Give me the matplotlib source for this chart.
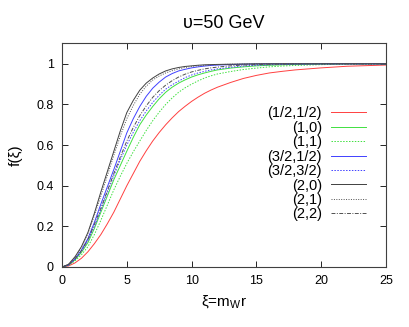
import numpy as np
import matplotlib
matplotlib.use('Agg')
import matplotlib.pyplot as plt

plt.rcParams['font.family'] = ['Liberation Sans', 'DejaVu Sans']
plt.rcParams['mathtext.fontset'] = 'custom'
plt.rcParams['mathtext.rm'] = 'Liberation Sans'

xi = [0, 0.5, 1, 1.5, 2, 2.5, 3, 3.5, 4, 4.5, 5, 5.5, 6, 6.5, 7, 7.5, 8, 8.5,
      9, 9.5, 10, 10.5, 11, 11.5, 12, 13, 14, 15, 16, 17, 18, 19, 20, 22, 25]

f_half_half = [0, 0.005, 0.02, 0.043, 0.075, 0.115, 0.16, 0.213, 0.27, 0.335,
               0.40, 0.46, 0.52, 0.572, 0.62, 0.662, 0.70, 0.734, 0.765, 0.791,
               0.815, 0.836, 0.855, 0.871, 0.885,
               0.908, 0.928, 0.943, 0.955, 0.963, 0.970, 0.975, 0.980, 0.988, 0.994]
f_1_0 = [0, 0.009, 0.035, 0.072, 0.12, 0.19, 0.27, 0.35, 0.43, 0.50,
         0.57, 0.638, 0.70, 0.748, 0.79, 0.828, 0.86, 0.885, 0.905, 0.921,
         0.935, 0.946, 0.955, 0.963, 0.970,
         0.979, 0.985, 0.990, 0.993, 0.995, 0.997, 0.998, 0.999, 1.0, 1.0]
f_1_1 = [0, 0.008, 0.03, 0.06, 0.10, 0.16, 0.23, 0.305, 0.38, 0.447,
         0.51, 0.567, 0.62, 0.672, 0.72, 0.762, 0.80, 0.832, 0.86, 0.882,
         0.90, 0.916, 0.93, 0.941, 0.95,
         0.962, 0.972, 0.979, 0.985, 0.989, 0.992, 0.994, 0.996, 0.998, 1.0]
f_32_12 = [0, 0.01, 0.04, 0.083, 0.14, 0.22, 0.31, 0.395, 0.48, 0.57,
           0.66, 0.73, 0.79, 0.84, 0.88, 0.91, 0.935, 0.952, 0.965, 0.973,
           0.98, 0.985, 0.989, 0.992, 0.994,
           0.996, 0.998, 0.999, 1.0, 1.0, 1.0, 1.0, 1.0, 1.0, 1.0]
f_32_32 = [0, 0.009, 0.037, 0.077, 0.13, 0.20, 0.28, 0.365, 0.45, 0.527,
           0.60, 0.663, 0.72, 0.768, 0.81, 0.845, 0.875, 0.897, 0.915, 0.932,
           0.945, 0.955, 0.963, 0.970, 0.975,
           0.983, 0.989, 0.993, 0.995, 0.997, 0.998, 0.999, 1.0, 1.0, 1.0]
f_2_0 = [0, 0.013, 0.05, 0.10, 0.17, 0.265, 0.37, 0.47, 0.57, 0.67,
         0.76, 0.82, 0.87, 0.905, 0.93, 0.95, 0.965, 0.975, 0.982, 0.987,
         0.99, 0.993, 0.995, 0.996, 0.997,
         0.998, 0.999, 1.0, 1.0, 1.0, 1.0, 1.0, 1.0, 1.0, 1.0]
f_2_1 = [0, 0.012, 0.048, 0.097, 0.165, 0.255, 0.35, 0.45, 0.55, 0.645,
         0.73, 0.795, 0.85, 0.89, 0.92, 0.94, 0.955, 0.966, 0.975, 0.982,
         0.987, 0.99, 0.993, 0.995, 0.996,
         0.998, 0.999, 1.0, 1.0, 1.0, 1.0, 1.0, 1.0, 1.0, 1.0]
f_2_2 = [0, 0.01, 0.04, 0.08, 0.135, 0.21, 0.29, 0.375, 0.46, 0.542,
         0.62, 0.687, 0.745, 0.793, 0.835, 0.868, 0.895, 0.917, 0.935, 0.949,
         0.96, 0.968, 0.975, 0.98, 0.984,
         0.99, 0.994, 0.996, 0.998, 0.999, 1.0, 1.0, 1.0, 1.0, 1.0]

labels = ['(1/2,1/2)', '(1,0)', '(1,1)', '(3/2,1/2)', '(3/2,3/2)',
          '(2,0)', '(2,1)', '(2,2)']
series = [f_half_half, f_1_0, f_1_1, f_32_12, f_32_32, f_2_0, f_2_1, f_2_2]
colors = ['#ff4040', '#40e040', '#40e040', '#4040ff', '#4040ff',
          '#404040', '#505050', '#505050']
styles = ['-', '-', (0, (1.5, 1.5)), '-', (0, (1.5, 1.5)),
          '-', (0, (1, 1.5)), (0, (4, 1.5, 1, 1.5))]

fig = plt.figure(figsize=(4.09, 3.27), dpi=100)
ax = fig.add_axes([0.1516, 0.1835, 0.7922, 0.6835])

for y, lab, c, ls in zip(series, labels, colors, styles):
    ax.plot(xi, y, color=c, linestyle=ls, linewidth=0.7, label=lab)

ax.set_xlim(0, 25)
ax.set_ylim(0, 1.1)
ax.set_xticks([0, 5, 10, 15, 20, 25])
ax.set_yticks([0, 0.2, 0.4, 0.6, 0.8, 1])
ax.set_yticklabels(['0', '0.2', '0.4', '0.6', '0.8', '1'])
ax.tick_params(direction='in', top=True, right=True, labelsize=9, length=4,
               width=0.6, pad=6)
for s in ax.spines.values():
    s.set_linewidth(0.8)
    s.set_color('#404040')

ax.set_title('υ=50 GeV', fontsize=13, pad=11)
ax.set_xlabel(r'ξ=$\mathrm{m_{W}r}$', fontsize=11, labelpad=4)
ax.set_ylabel('f(ξ)', fontsize=11, labelpad=10)

leg = ax.legend(loc='upper right', bbox_to_anchor=(0.955, 0.745), frameon=False,
                markerfirst=False, fontsize=10.5, labelspacing=0.03,
                handlelength=2.4, handletextpad=0.6, borderaxespad=0)
# right-align the labels like gnuplot does
for col in leg._legend_box.get_children()[1].get_children():
    col.align = 'right'

fig.savefig('out.png', dpi=100)
